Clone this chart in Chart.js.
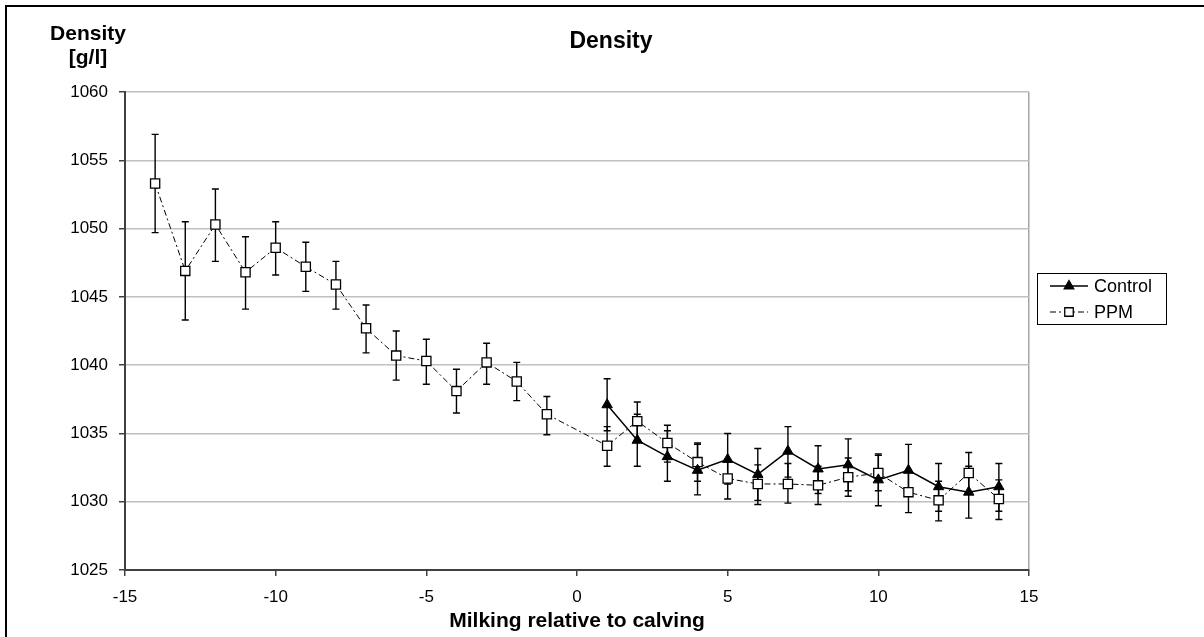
<!DOCTYPE html>
<html>
<head>
<meta charset="utf-8">
<script src="https://cdn.jsdelivr.net/npm/chart.js@4.4.0/dist/chart.umd.min.js"></script>
<style>
body{margin:0;background:#fff;}
#wrap{width:1204px;height:637px;}
</style>
</head>
<body>
<div id="wrap"><canvas id="graph" width="1204" height="637"></canvas></div>
<script>
// milking number relative to calving
var ppmX = [-14,-13,-12,-11,-10,-9,-8,-7,-6,-5,-4,-3,-2,-1,1,2,3,4,5,6,7,8,9,10,11,12,13,14];
var ppmMean = [1053.3,1046.9,1050.3,1046.8,1048.6,1047.2,1045.9,1042.7,1040.7,1040.3,1038.1,1040.2,1038.8,1036.4,
               1034.1,1035.9,1034.3,1032.9,1031.7,1031.3,1031.3,1031.2,1031.8,1032.1,1030.7,1030.1,1032.1,1030.2];
var ppmUp = [1056.9,1050.5,1052.9,1049.4,1050.5,1049.0,1047.6,1044.4,1042.5,1041.9,1039.7,1041.6,1040.2,1037.7,
             1035.5,1037.3,1035.6,1034.3,1033.1,1032.7,1032.8,1032.6,1033.2,1033.4,1032.2,1031.5,1033.6,1031.6];
var ppmLow = [1049.7,1043.3,1047.6,1044.1,1046.6,1045.4,1044.1,1040.9,1038.9,1038.6,1036.5,1038.6,1037.4,1034.9,
              1032.6,1034.5,1032.9,1031.5,1030.2,1029.8,1029.9,1029.8,1030.4,1030.8,1029.2,1028.6,1030.7,1028.7];

var ctrlX = [1,2,3,4,5,6,7,8,9,10,11,12,13,14];
var ctrlMean = [1037.1,1034.5,1033.3,1032.3,1033.1,1032.0,1033.7,1032.4,1032.7,1031.6,1032.3,1031.1,1030.7,1031.1];
var ctrlUp = [1039.0,1036.4,1035.2,1034.2,1035.0,1033.9,1035.5,1034.1,1034.6,1033.5,1034.2,1032.8,1032.6,1032.8];
var ctrlLow = [1035.2,1032.6,1031.5,1030.5,1031.3,1030.1,1031.8,1030.6,1030.8,1029.7,1030.4,1029.3,1028.8,1029.3];

var seriesNames = ['Control', 'PPM'];
var chartTitle = 'Density';
var yTitle = ['Density', '[g/l]'];
var xTitle = 'Milking relative to calving';

var ppmDash = [6,3,2,3];

function toPoints(xs, ys){
    var pts = [];
    for(let i=0;i<xs.length;i++){
        pts.push({x: xs[i], y: ys[i]});
    }
    return pts;
}

// error bars, drawn under the lines and markers
const errorBars = {
    id: 'errorBars',
    beforeDatasetsDraw(chart){
        const ctx = chart.ctx;
        const xs = chart.scales.x, ys = chart.scales.y;
        const sets = [[ctrlX, ctrlUp, ctrlLow], [ppmX, ppmUp, ppmLow]];
        ctx.save();
        ctx.strokeStyle = '#000';
        ctx.lineWidth = 1.4;
        sets.forEach(s => {
            for(let i=0;i<s[0].length;i++){
                const px = xs.getPixelForValue(s[0][i]);
                const pTop = ys.getPixelForValue(s[1][i]);
                const pBot = ys.getPixelForValue(s[2][i]);
                ctx.beginPath();
                ctx.moveTo(px, pTop); ctx.lineTo(px, pBot);
                ctx.moveTo(px-3.5, pTop); ctx.lineTo(px+3.5, pTop);
                ctx.moveTo(px-3.5, pBot); ctx.lineTo(px+3.5, pBot);
                ctx.stroke();
            }
        });
        ctx.restore();
    }
};

// frame, title, y label and boxed legend
const decor = {
    id: 'decor',
    beforeDraw(chart){
        const ctx = chart.ctx;
        ctx.save();
        ctx.fillStyle = '#fff';
        ctx.fillRect(0,0,chart.width,chart.height);
        ctx.restore();
    },
    afterDraw(chart){
        const ctx = chart.ctx;
        const a = chart.chartArea;
        ctx.save();
        ctx.strokeStyle = '#000';
        ctx.lineWidth = 2;
        ctx.beginPath();
        ctx.moveTo(6, chart.height); ctx.lineTo(6, 6); ctx.lineTo(chart.width, 6);
        ctx.stroke();

        ctx.fillStyle = '#000';
        ctx.textAlign = 'center';
        ctx.textBaseline = 'alphabetic';
        ctx.font = 'bold 23px "Liberation Sans", Arial, sans-serif';
        ctx.fillText(chartTitle, 611, 48);
        ctx.font = 'bold 21px "Liberation Sans", Arial, sans-serif';
        ctx.fillText(yTitle[0], 88, 40);
        ctx.fillText(yTitle[1], 88, 64);

        // legend
        const lx = a.right + 8, ly = 273;
        ctx.lineWidth = 1;
        ctx.strokeRect(lx + 0.5, ly + 0.5, 129, 51);
        ctx.font = '18px "Liberation Sans", Arial, sans-serif';
        ctx.textAlign = 'left';
        ctx.textBaseline = 'middle';
        const rows = [
            {y: ly + 13, style: 'triangle', r: 5.5, fill: '#000', dash: [], lw: 1.5},
            {y: ly + 39, style: 'rect', r: 6, fill: '#fff', dash: ppmDash, lw: 1}
        ];
        rows.forEach((row, i) => {
            ctx.setLineDash(row.dash);
            ctx.lineWidth = row.lw;
            ctx.beginPath();
            ctx.moveTo(lx + 13, row.y); ctx.lineTo(lx + 51, row.y);
            ctx.stroke();
            ctx.setLineDash([]);
            ctx.fillStyle = row.fill;
            ctx.lineWidth = 1.3;
            Chart.helpers.drawPoint(ctx, {pointStyle: row.style, radius: row.r, borderWidth: 1.3}, lx + 32, row.y);
            ctx.fillStyle = '#000';
            ctx.fillText(seriesNames[i], lx + 57, row.y + 1);
        });
        ctx.restore();
    }
};

const config = {
    type: 'line',
    data: {
        datasets: [{
            label: seriesNames[0],
            data: toPoints(ctrlX, ctrlMean),
            borderColor: '#000',
            backgroundColor: '#000',
            borderWidth: 1.5,
            pointStyle: 'triangle',
            pointRadius: 6,
            pointBorderWidth: 1,
            pointBackgroundColor: '#000',
            pointBorderColor: '#000',
            tension: 0
        }, {
            label: seriesNames[1],
            data: toPoints(ppmX, ppmMean),
            borderColor: '#000',
            backgroundColor: '#fff',
            borderWidth: 1,
            borderDash: ppmDash,
            pointStyle: 'rect',
            pointRadius: 6.5,
            pointBorderWidth: 1.3,
            pointBackgroundColor: '#fff',
            pointBorderColor: '#000',
            tension: 0
        }]
    },
    options: {
        responsive: false,
        animation: false,
        layout: { padding: { left: 0, right: 175, top: 92, bottom: 0 } },
        plugins: {
            legend: { display: false },
            title: { display: false },
            tooltip: { enabled: false }
        },
        scales: {
            x: {
                type: 'linear',
                min: -15, max: 15,
                afterFit(scale){ scale.height = 67; },
                ticks: {
                    stepSize: 5,
                    color: '#000',
                    padding: 11,
                    font: { family: '"Liberation Sans", Arial, sans-serif', size: 17 },
                    callback: v => String(v)
                },
                grid: {
                    color: c => (c.tick && c.tick.value === 15) ? '#a6a6a6' : 'rgba(0,0,0,0)',
                    tickColor: '#404040',
                    tickLength: 6,
                    lineWidth: 1.5
                },
                border: { color: '#404040', width: 2 },
                title: {
                    display: true,
                    text: xTitle,
                    color: '#000',
                    padding: { top: 0, bottom: 3 },
                    font: { family: '"Liberation Sans", Arial, sans-serif', size: 21, weight: 'bold' }
                }
            },
            y: {
                min: 1025, max: 1060,
                afterFit(scale){ scale.width = 125; },
                ticks: {
                    stepSize: 5,
                    color: '#000',
                    padding: 11,
                    font: { family: '"Liberation Sans", Arial, sans-serif', size: 17 },
                    callback: v => String(v)
                },
                grid: {
                    color: '#c0c0c0',
                    tickColor: '#404040',
                    tickLength: 6,
                    lineWidth: 1.5
                },
                border: { color: '#404040', width: 2 }
            }
        }
    },
    plugins: [errorBars, decor]
};

new Chart(document.getElementById('graph'), config);
</script>
</body>
</html>
